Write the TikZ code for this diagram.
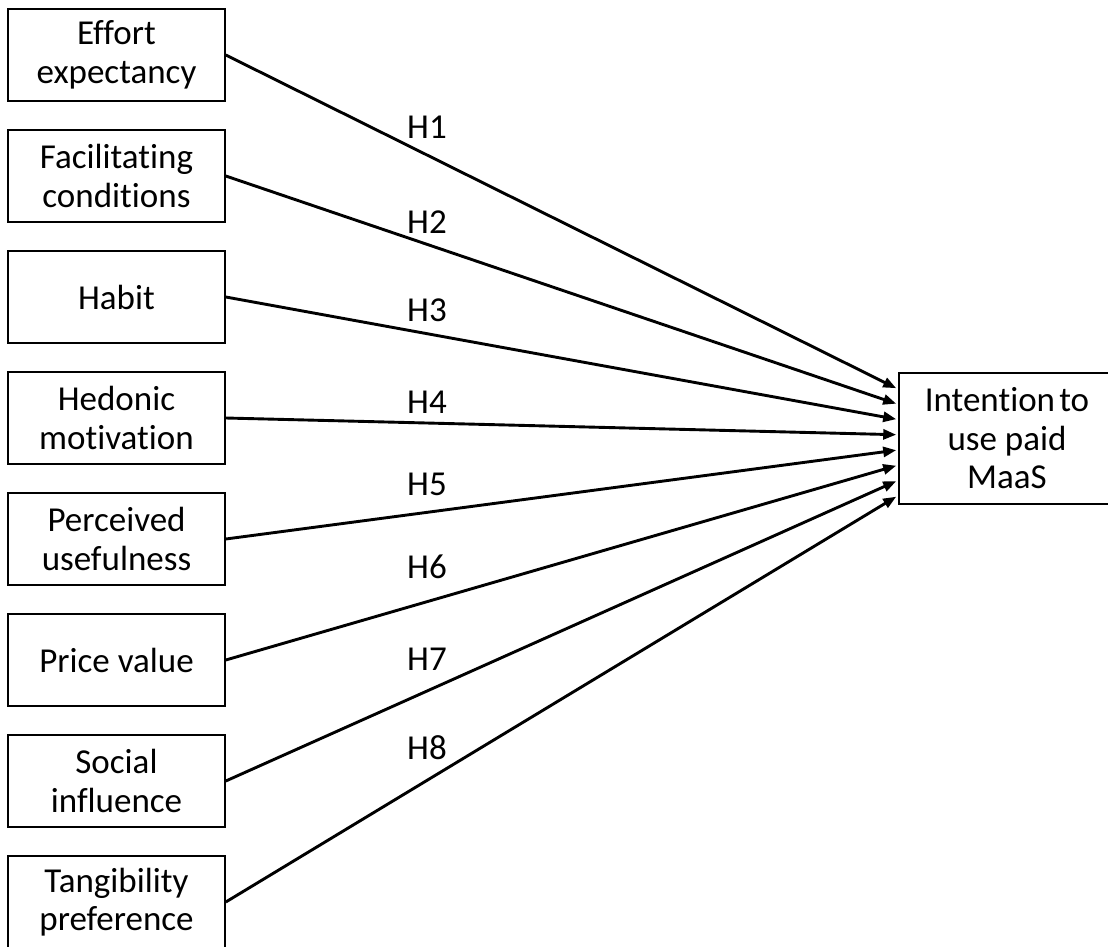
\documentclass[tikz,border=0pt]{standalone}
\usepackage{fontspec}
\setmainfont{Carlito}[Ligatures={NoCommon}]
\usetikzlibrary{arrows.meta,calc}
\begin{document}
\begin{tikzpicture}[x=1pt,y=-1pt,
  txt/.style={font=\fontsize{35}{38.5}\selectfont},
  factor/.style={txt,draw,line width=1.6pt,minimum width=217pt,minimum height=92pt,
    align=center,inner sep=0pt},
  outcome/.style={txt,draw,line width=1.6pt,minimum width=216pt,minimum height=131pt,
    align=center,inner sep=0pt},
  hyp/.style={txt,inner sep=0pt},
  path/.style={line width=2.9pt,-{Triangle[length=13pt,width=10pt]}}]
\useasboundingbox (0,0) rectangle (1108,947);
\begin{scope}
\clip (0,0) rectangle (1108,947);
% predictor constructs
\node[factor] (b1) at (116.5,55)  {Effort\\expectancy};
\node[factor] (b2) at (116.5,176) {Facilitating\\conditions};
\node[factor] (b3) at (116.5,297) {Habit};
\node[factor] (b4) at (116.5,418) {Hedonic\\motivation};
\node[factor] (b5) at (116.5,539) {Perceived\\usefulness};
\node[factor] (b6) at (116.5,660) {Price value};
\node[factor] (b7) at (116.5,781) {Social\\influence};
\node[factor] (b8) at (116.5,902) {Tangibility\\preference};
% dependent construct
\node[outcome] (t) at (1007,438.5) {Intention\hspace{0.12em}to\\use paid\\MaaS};
% arrow end points along the left side of the outcome box
\foreach \i in {1,...,8}
  \coordinate (e\i) at ($(t.north west)+(-2,{16+15.5*(\i-1)})$);
% hypothesised paths
\foreach \i in {1,...,8}
  \draw[path] (b\i.east) -- (e\i);
% hypothesis labels
\node[hyp] (h1) at (427,127) {H1};
\node[hyp] (h2) at (427,222) {H2};
\node[hyp] (h3) at (427,310) {H3};
\node[hyp] (h4) at (427,402) {H4};
\node[hyp] (h5) at (427,484) {H5};
\node[hyp] (h6) at (427,567) {H6};
\node[hyp] (h7) at (427,659) {H7};
\node[hyp] (h8) at (427,748) {H8};
\end{scope}
\end{tikzpicture}
\end{document}
